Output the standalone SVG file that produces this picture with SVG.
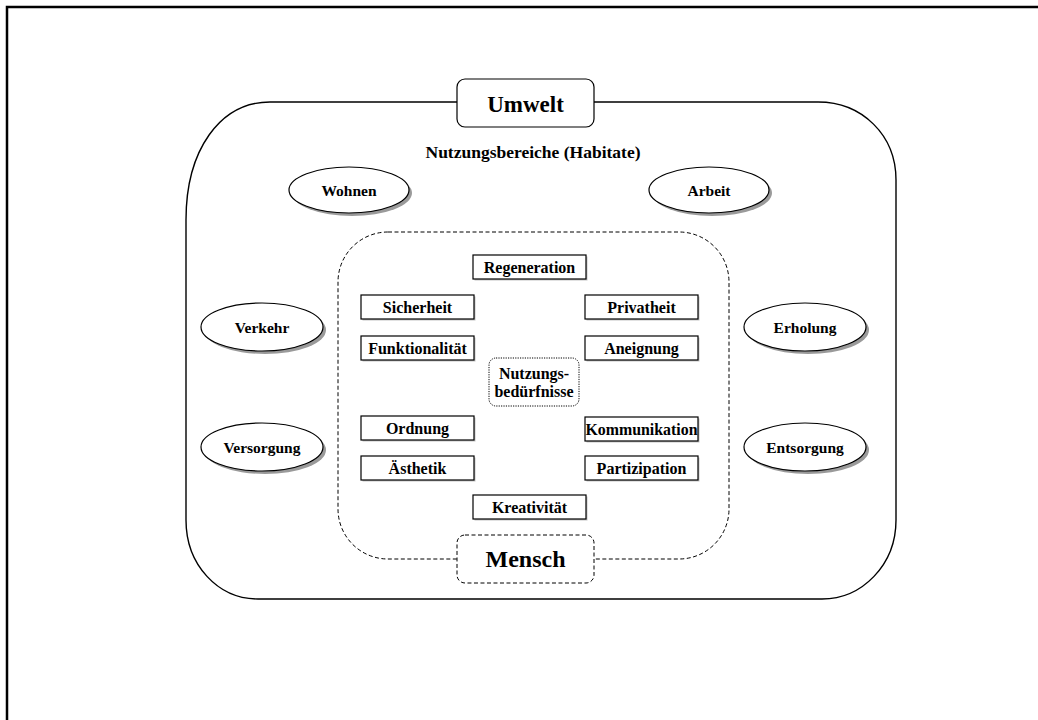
<svg xmlns="http://www.w3.org/2000/svg" width="1038" height="720" viewBox="0 0 1038 720">
  <style>
    .t { font-family: "Liberation Serif", "Times New Roman", serif; font-weight: bold; fill: #000; text-anchor: middle; }
    .box { fill: #fff; stroke: #000; stroke-width: 1.2; }
    .shadow { fill: #9a9a9a; }
    .bshadow { fill: #c4c4c4; }
    .ell { fill: #fff; stroke: #000; stroke-width: 1.2; }
  </style>

  <rect x="0" y="0" width="1038" height="720" fill="#fff"/>

  <!-- page frame (top and left edges) -->
  <path d="M7,720 V7 H1038" fill="none" stroke="#000" stroke-width="2.5"/>

  <g id="connectors">
    <!-- Umwelt boundary -->
    <path d="M270,102 H818 C862,102 896,135 896,180 V520 C896,565 862,599 822,599 H258 C218,599 186,565 186,520 V220 C186,150 220,102 270,102 Z"
          fill="none" stroke="#000" stroke-width="1.4"/>
    <!-- Mensch boundary -->
    <rect x="338" y="232" width="391" height="327" rx="50" ry="50"
          fill="none" stroke="#000" stroke-width="1" stroke-dasharray="4 2.5"/>
  </g>

  <g id="umwelt">
    <rect class="box" x="457" y="79" width="137" height="48" rx="8" ry="8"/>
    <text class="t" x="525.5" y="112" font-size="23">Umwelt</text>
  </g>

  <g id="mensch">
    <rect x="457" y="535" width="137" height="48" rx="8" ry="8" fill="#fff" stroke="#000" stroke-width="1" stroke-dasharray="4 2.5"/>
    <text class="t" x="525.5" y="567" font-size="24">Mensch</text>
  </g>

  <g id="habitate-title">
    <text class="t" x="533" y="158" font-size="17.5">Nutzungsbereiche (Habitate)</text>
  </g>

  <!-- usage areas -->
  <g id="wohnen">
    <ellipse class="shadow" cx="352" cy="193" rx="60" ry="23"/>
    <ellipse class="ell" cx="349" cy="190" rx="60" ry="23"/>
    <text class="t" x="349" y="196" font-size="15.5">Wohnen</text>
  </g>
  <g id="arbeit">
    <ellipse class="shadow" cx="712" cy="193" rx="60" ry="23"/>
    <ellipse class="ell" cx="709" cy="190" rx="60" ry="23"/>
    <text class="t" x="709" y="196" font-size="15.5">Arbeit</text>
  </g>
  <g id="verkehr">
    <ellipse class="shadow" cx="265" cy="330" rx="61" ry="24"/>
    <ellipse class="ell" cx="262" cy="327" rx="61" ry="24"/>
    <text class="t" x="262" y="333" font-size="15.5">Verkehr</text>
  </g>
  <g id="versorgung">
    <ellipse class="shadow" cx="265" cy="450" rx="61" ry="24"/>
    <ellipse class="ell" cx="262" cy="447" rx="61" ry="24"/>
    <text class="t" x="262" y="453" font-size="15.5">Versorgung</text>
  </g>
  <g id="erholung">
    <ellipse class="shadow" cx="808" cy="330" rx="61" ry="24"/>
    <ellipse class="ell" cx="805" cy="327" rx="61" ry="24"/>
    <text class="t" x="805" y="333" font-size="15.5">Erholung</text>
  </g>
  <g id="entsorgung">
    <ellipse class="shadow" cx="808" cy="450" rx="61" ry="24"/>
    <ellipse class="ell" cx="805" cy="447" rx="61" ry="24"/>
    <text class="t" x="805" y="453" font-size="15.5">Entsorgung</text>
  </g>

  <!-- usage needs -->
  <g id="regeneration">
    <rect class="bshadow" x="474.5" y="256.5" width="113" height="24"/>
    <rect class="box" x="473" y="255" width="113" height="24"/>
    <text class="t" x="529.5" y="273" font-size="16">Regeneration</text>
  </g>
  <g id="sicherheit">
    <rect class="bshadow" x="362.5" y="296.5" width="113" height="24"/>
    <rect class="box" x="361" y="295" width="113" height="24"/>
    <text class="t" x="417.5" y="313" font-size="16">Sicherheit</text>
  </g>
  <g id="funktionalitaet">
    <rect class="bshadow" x="362.5" y="337.5" width="113" height="24"/>
    <rect class="box" x="361" y="336" width="113" height="24"/>
    <text class="t" x="417.5" y="354" font-size="16">Funktionalität</text>
  </g>
  <g id="ordnung">
    <rect class="bshadow" x="362.5" y="417.5" width="113" height="24"/>
    <rect class="box" x="361" y="416" width="113" height="24"/>
    <text class="t" x="417.5" y="434" font-size="16">Ordnung</text>
  </g>
  <g id="aesthetik">
    <rect class="bshadow" x="362.5" y="457.5" width="113" height="24"/>
    <rect class="box" x="361" y="456" width="113" height="24"/>
    <text class="t" x="417.5" y="474" font-size="16">Ästhetik</text>
  </g>
  <g id="privatheit">
    <rect class="bshadow" x="586.5" y="296.5" width="113" height="24"/>
    <rect class="box" x="585" y="295" width="113" height="24"/>
    <text class="t" x="641.5" y="313" font-size="16">Privatheit</text>
  </g>
  <g id="aneignung">
    <rect class="bshadow" x="586.5" y="337.5" width="113" height="24"/>
    <rect class="box" x="585" y="336" width="113" height="24"/>
    <text class="t" x="641.5" y="354" font-size="16">Aneignung</text>
  </g>
  <g id="kommunikation">
    <rect class="bshadow" x="586.5" y="418.5" width="113" height="24"/>
    <rect class="box" x="585" y="417" width="113" height="24"/>
    <text class="t" x="641.5" y="435" font-size="16" textLength="112" lengthAdjust="spacingAndGlyphs">Kommunikation</text>
  </g>
  <g id="partizipation">
    <rect class="bshadow" x="586.5" y="457.5" width="113" height="24"/>
    <rect class="box" x="585" y="456" width="113" height="24"/>
    <text class="t" x="641.5" y="474" font-size="16">Partizipation</text>
  </g>
  <g id="kreativitaet">
    <rect class="bshadow" x="474.5" y="496.5" width="113" height="24"/>
    <rect class="box" x="473" y="495" width="113" height="24"/>
    <text class="t" x="529.5" y="513" font-size="16">Kreativität</text>
  </g>

  <g id="nutzungsbeduerfnisse">
    <rect x="489" y="358" width="90" height="48" rx="7" ry="7" fill="#fff" stroke="#000" stroke-width="1" stroke-dasharray="1.2 1.2"/>
    <text class="t" x="534" y="379" font-size="16">Nutzungs-</text>
    <text class="t" x="534" y="397" font-size="16">bedürfnisse</text>
  </g>
</svg>
